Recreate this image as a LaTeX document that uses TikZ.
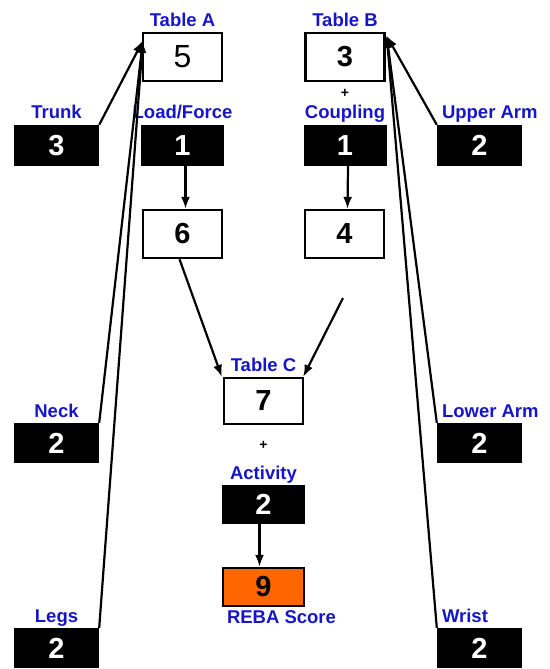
\documentclass[tikz,border=0pt]{standalone}
\usepackage{fontspec}
\setmainfont{Liberation Sans}
\usepackage{tikz}
\usetikzlibrary{arrows.meta,positioning}
\definecolor{lblblue}{RGB}{22,22,200}
\definecolor{scoreorange}{RGB}{255,102,0}
\newcommand{\lblfont}{\bfseries\fontsize{18.5}{20}\selectfont}
\newcommand{\numfont}{\bfseries\fontsize{29}{30}\selectfont}

\begin{document}
\begin{tikzpicture}[x=1pt, y=-1pt, node distance=6pt,
  tbl/.style={draw, line width=2.4pt, fill=white, inner sep=0pt, minimum width=79pt, minimum height=48pt, font=\numfont},
  val/.style={fill=black, text=white, inner sep=0pt, minimum width=85pt, minimum height=40pt, font=\numfont},
  lbl/.style={text=lblblue, inner sep=0pt, text depth=0pt, font=\lblfont},
  plus/.style={inner sep=0pt, font=\bfseries\fontsize{14}{15}\selectfont},
  arr/.style={-{Latex[length=12pt,width=9pt]}, line width=2.2pt}]
\useasboundingbox (0,0) rectangle (549,669);
% tables
\node[tbl, font=\fontsize{32}{33}\selectfont] (tabA) at (182.5,57) {5};
\node[tbl] (tabB) at (345,57) {3};
\node[tbl] (sumA) at (182.5,234) {6};
\node[tbl] (sumB) at (344.5,234) {4};
\node[tbl, minimum height=46pt] (tabC) at (263.5,401) {7};
% scores
\node[val, minimum height=41pt] (trunk) at (56.5,145.5) {3};
\node[val, minimum width=83pt, minimum height=41pt] (load) at (182.5,145.5) {1};
\node[val, minimum width=83pt, minimum height=41pt] (coup) at (345,145.5) {1};
\node[val, minimum height=41pt] (uarm) at (479.5,145.5) {2};
\node[val] (neck) at (56.5,443) {2};
\node[val] (larm) at (479.5,443) {2};
\node[val] (legs) at (56.5,648) {2};
\node[val] (wrist) at (479.5,648) {2};
\node[val, minimum width=83pt, minimum height=39pt] (act) at (263.5,504.5) {2};
\node[draw, line width=2.4pt, fill=scoreorange, inner sep=0pt, minimum width=81pt, minimum height=38pt, font=\numfont] (reba) at (263.5,587) {9};
% labels
\node[lbl, above=5pt of tabA] (lA) {Table A};
\node[lbl, above=5pt of tabB] (lB) {Table B};
\node[lbl, above=5pt of tabC] (lC) {Table C};
\node[lbl, above=6pt of trunk] (lTrunk) {Trunk};
\node[lbl, above=6pt of load] (lLoad) {Load/Force};
\node[lbl, above=6pt of coup] (lCoup) {Coupling};
\node[lbl, above=6pt of uarm.north west, anchor=south west, xshift=5pt] (lUarm) {Upper Arm};
\node[lbl, above=5pt of neck] (lNeck) {Neck};
\node[lbl, above=5pt of larm.north west, anchor=south west, xshift=5pt] (lLarm) {Lower Arm};
\node[lbl, above=5pt of legs] (lLegs) {Legs};
\node[lbl, above=5pt of wrist.north west, anchor=south west, xshift=5pt] (lWrist) {Wrist};
\node[lbl, above=5pt of act] (lAct) {Activity};
\node[lbl, anchor=north west] (lReba) at ([xshift=5pt,yshift=-3pt]reba.south west) {REBA Score};
\node[plus] (pB) at (345,93) {+};
\node[plus] (pC) at (263.5,445) {+};
\coordinate (fromB) at (343,298);
% connectors
\draw[arr] (trunk.north east) -- ([xshift=1pt,yshift=-9pt]tabA.north west);
\draw[arr] (neck.north east) -- ([xshift=1pt,yshift=-9pt]tabA.north west);
\draw[arr] (legs.north east) -- ([xshift=1pt,yshift=-9pt]tabA.north west);
\draw[arr] (uarm.north west) -- ([xshift=1pt,yshift=-4pt]tabB.north east);
\draw[arr] (larm.north west) -- ([xshift=1pt,yshift=-4pt]tabB.north east);
\draw[arr] (wrist.north west) -- ([xshift=1pt,yshift=-4pt]tabB.north east);
\draw[arr] ([xshift=3pt]load.south) -- ([xshift=3pt]sumA.north);
\draw[arr] ([xshift=3pt]coup.south) -- ([xshift=3pt]sumB.north);
\draw[arr] ([xshift=-3pt]sumA.south) -- ([xshift=-1pt]tabC.north west);
\draw[arr] (fromB) -- ([xshift=-1pt]tabC.north east);
\draw[arr] ([xshift=-4pt]act.south) -- ([xshift=-4pt]reba.north);
\end{tikzpicture}
\end{document}
